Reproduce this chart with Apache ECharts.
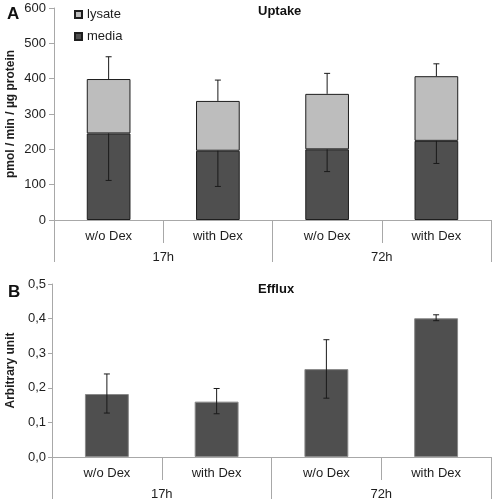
<!DOCTYPE html>
<html><head><meta charset="utf-8">
<script src="https://cdn.jsdelivr.net/npm/echarts@6/dist/echarts.min.js"></script>
<style>html,body{margin:0;padding:0;background:#fff}#c{width:492px;height:504px}</style>
</head><body><div id="c"></div>
<script>
// ---- data ----
const innerCats = ['w/o Dex','with Dex','w/o Dex','with Dex'];
const outerCats = ['17h','72h'];
// Panel A: Uptake (pmol / min / µg protein)
const mediaVals = [245, 196, 200, 224];
const lysateVals = [154, 141, 157, 183];
const mediaErrLow = [112, 95, 137, 160];      // lower end of media error bar
const totalErrHigh = [462, 396, 415, 442];    // upper end of total error bar
// Panel B: Efflux (arbitrary unit)
const effluxVals = [0.182, 0.160, 0.254, 0.401];
const effluxErrLow = [0.127, 0.125, 0.170, 0.394];
const effluxErrHigh = [0.240, 0.198, 0.339, 0.411];

const FONT = 'Liberation Sans, Arial, sans-serif';
const AX = '#a8a8a8';
const TXT = '#1e1e1e';

function errSeries(name, xi, yi, pairs) {
  return {
    type: 'custom', name: name, xAxisIndex: xi, yAxisIndex: yi, silent: true, z: 10,
    data: pairs,
    renderItem: function (params, api) {
      const x = api.value(0), lo = api.value(1), hi = api.value(2);
      const pLo = api.coord([x, lo]), pHi = api.coord([x, hi]);
      const cap = 3;
      const st = {stroke: '#1a1a1a', lineWidth: 1};
      const ch = [{type:'line', shape:{x1:pLo[0],y1:pLo[1],x2:pHi[0],y2:pHi[1]}, style:st}];
      if (params.seriesName.indexOf('lo') < 0) ch.push({type:'line', shape:{x1:pHi[0]-cap,y1:pHi[1],x2:pHi[0]+cap,y2:pHi[1]}, style:st});
      if (params.seriesName.indexOf('hi') < 0) ch.push({type:'line', shape:{x1:pLo[0]-cap,y1:pLo[1],x2:pLo[0]+cap,y2:pLo[1]}, style:st});
      return {type:'group', children: ch};
    }
  };
}

const totals = mediaVals.map((v,i)=>v+lysateVals[i]);
const mediaErr = mediaVals.map((v,i)=>[i, mediaErrLow[i], v]);
const totalErr = totals.map((v,i)=>[i, v, totalErrHigh[i]]);
const effErr = effluxVals.map((v,i)=>[i, effluxErrLow[i], effluxErrHigh[i]]);

function innerAxis(gi) {
  return {type:'category', gridIndex: gi, data: innerCats, position:'bottom', boundaryGap:true,
    axisLine:{show:true, lineStyle:{color:AX}},
    axisTick:{show:true, interval:0, alignWithLabel:false, length:23, lineStyle:{color:AX}},
    axisLabel:{color:TXT, fontSize:13, fontFamily:FONT, margin:10, interval:0}};
}
function outerAxis(gi) {
  return {type:'category', gridIndex: gi, data: outerCats, position:'bottom', boundaryGap:true,
    axisLine:{show:false},
    axisTick:{show:true, interval:0, alignWithLabel:false, length:42, lineStyle:{color:AX}},
    axisLabel:{color:TXT, fontSize:13, fontFamily:FONT, margin:31, interval:0}};
}

const chart = echarts.init(document.getElementById('c'), null, {renderer:'canvas'});
chart.setOption({
  animation: false,
  textStyle: {fontFamily: FONT},
  title: [
    {text:'A', left:2, top:1, textStyle:{fontSize:17, fontWeight:'bold', color:'#111', fontFamily:FONT}},
    {text:'Uptake', left:253, top:0, textStyle:{fontSize:13, fontWeight:'bold', color:'#111', fontFamily:FONT}},
    {text:'B', left:3, top:279, textStyle:{fontSize:17, fontWeight:'bold', color:'#111', fontFamily:FONT}},
    {text:'Efflux', left:253, top:278, textStyle:{fontSize:13, fontWeight:'bold', color:'#111', fontFamily:FONT}}
  ],
  legend: {
    data:['lysate','media'], orient:'vertical', left:69, top:3, itemWidth:7, itemHeight:7, itemGap:9,
    icon:'rect', selectedMode:false,
    textStyle:{fontSize:13, color:TXT, fontFamily:FONT}
  },
  grid: [
    {left:54, right:1, top:8, height:212, containLabel:false, outerBoundsMode:'none'},
    {left:52, right:1, top:284, height:173, containLabel:false, outerBoundsMode:'none'}
  ],
  xAxis: [innerAxis(0), outerAxis(0), innerAxis(1), outerAxis(1)],
  yAxis: [
    {type:'value', gridIndex:0, min:0, max:600, interval:100,
      name:'pmol / min / µg protein', nameLocation:'middle', nameGap:37, nameRotate:90, nameMoveOverlap:false,
      nameTextStyle:{fontSize:12, fontWeight:'bold', color:TXT, fontFamily:FONT},
      axisLine:{show:true, lineStyle:{color:AX}}, axisTick:{show:true, length:5, lineStyle:{color:AX}},
      splitLine:{show:false}, axisLabel:{color:TXT, fontSize:13, fontFamily:FONT, margin:8}},
    {type:'value', gridIndex:1, min:0, max:0.5, interval:0.1,
      name:'Arbitrary unit', nameLocation:'middle', nameGap:35, nameRotate:90, nameMoveOverlap:false,
      nameTextStyle:{fontSize:12, fontWeight:'bold', color:TXT, fontFamily:FONT},
      axisLine:{show:true, lineStyle:{color:AX}}, axisTick:{show:true, length:4, lineStyle:{color:AX}},
      splitLine:{show:false},
      axisLabel:{color:TXT, fontSize:13, fontFamily:FONT, margin:6,
        formatter: v => v.toFixed(1).replace('.', ',')}}
  ],
  series: [
    {type:'bar', name:'media', stack:'a', xAxisIndex:0, yAxisIndex:0, data:mediaVals, barWidth:'40%',
      itemStyle:{color:'#4f4f4f', borderColor:'#1e1e1e', borderWidth:1}},
    {type:'bar', name:'lysate', stack:'a', xAxisIndex:0, yAxisIndex:0, data:lysateVals, barWidth:'40%',
      itemStyle:{color:'#bdbdbd', borderColor:'#1e1e1e', borderWidth:1}},
    errSeries('err-lo', 0, 0, mediaErr),
    errSeries('err-hi', 0, 0, totalErr),
    {type:'bar', name:'efflux', xAxisIndex:2, yAxisIndex:1, data:effluxVals, barWidth:'40%',
      itemStyle:{color:'#4f4f4f', borderColor:'#8a8a8a', borderWidth:1}},
    errSeries('err-both', 2, 1, effErr)
  ]
});
</script></body></html>
